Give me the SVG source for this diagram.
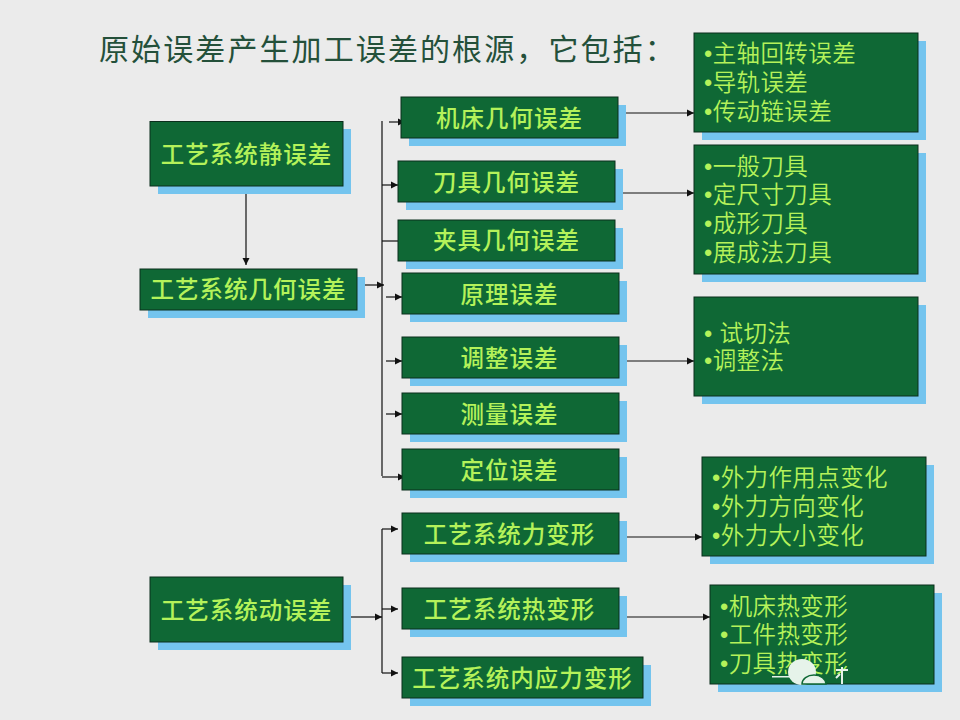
<svg xmlns="http://www.w3.org/2000/svg" width="960" height="720" viewBox="0 0 960 720">
<style>
text{font-family:"Liberation Sans","Noto Sans CJK SC",sans-serif;fill:#b4f25a}
.t{font-size:30px;fill:#24503a;letter-spacing:2.1px}
.b{font-size:23.5px;font-weight:500;text-anchor:middle;letter-spacing:1px}
.l{font-size:23.5px;font-weight:350;letter-spacing:.4px}
.s{fill:#74c4ee}
.r{fill:#0f6835;stroke:#0b2e1c;stroke-width:1}
.c{fill:none;stroke:#111;stroke-width:1.2}
.a{fill:none;stroke:#111;stroke-width:1.2;marker-end:url(#m)}
</style>
<defs><marker id="m" viewBox="0 0 8 8" refX="8" refY="4" markerWidth="6" markerHeight="6" orient="auto"><path d="M0 0L8 4L0 8z" fill="#111"/></marker></defs>
<rect width="960" height="720" fill="#ebebeb"/>
<text class="t" x="99" y="60">原始误差产生加工误差的根源，它包括：</text>
<g id="connectors">
<path class="c" d="M382 121V476M382 529V673"/>
<path class="a" d="M246 193V265"/>
<path class="a" d="M360 285H384"/>
<path class="a" d="M389 122H405"/>
<path class="a" d="M382 185H398"/>
<path class="a" d="M382 241H406"/>
<path class="a" d="M386 297H402"/>
<path class="a" d="M386 361H402"/>
<path class="a" d="M386 414H402"/>
<path class="a" d="M382 477H405"/>
<path class="a" d="M382 529H398"/>
<path class="a" d="M382 609H398"/>
<path class="a" d="M382 673H398"/>
<path class="a" d="M350 617H382"/>
<path class="a" d="M622 113H694"/>
<path class="a" d="M622 193H694"/>
<path class="a" d="M622 361H694"/>
<path class="a" d="M622 537H702"/>
<path class="a" d="M622 617H710"/>
</g>
<g id="n1"><rect class="s" x="158" y="129" width="193" height="65"/><rect class="r" x="150" y="121.500" width="193" height="64.500"/><text class="b" x="246.500" y="163">工艺系统静误差</text></g>
<g id="n2"><rect class="s" x="148" y="277" width="217" height="41"/><rect class="r" x="140" y="269" width="217" height="41"/><text class="b" x="248.500" y="298">工艺系统几何误差</text></g>
<g id="n3"><rect class="s" x="158" y="585" width="193" height="65"/><rect class="r" x="150" y="577" width="193" height="65"/><text class="b" x="246.500" y="619">工艺系统动误差</text></g>
<g id="n4"><rect class="s" x="409" y="105" width="217" height="41"/><rect class="r" x="401" y="97" width="217" height="41"/><text class="b" x="509.500" y="127">机床几何误差</text></g>
<g id="n5"><rect class="s" x="406" y="169" width="217" height="41"/><rect class="r" x="398" y="161" width="217" height="41"/><text class="b" x="506.500" y="191">刀具几何误差</text></g>
<g id="n6"><rect class="s" x="406" y="228" width="217" height="41"/><rect class="r" x="398" y="220" width="217" height="41"/><text class="b" x="506.500" y="249">夹具几何误差</text></g>
<g id="n7"><rect class="s" x="410" y="281" width="217" height="41"/><rect class="r" x="402" y="273" width="217" height="41"/><text class="b" x="509.500" y="303">原理误差</text></g>
<g id="n8"><rect class="s" x="410" y="345" width="217" height="41"/><rect class="r" x="402" y="337" width="217" height="41"/><text class="b" x="509.500" y="367">调整误差</text></g>
<g id="n9"><rect class="s" x="410" y="401" width="217" height="41"/><rect class="r" x="402" y="393" width="217" height="41"/><text class="b" x="509.500" y="423">测量误差</text></g>
<g id="n10"><rect class="s" x="410" y="457" width="217" height="41"/><rect class="r" x="402" y="449" width="217" height="41"/><text class="b" x="509.500" y="479">定位误差</text></g>
<g id="n11"><rect class="s" x="410" y="521" width="217" height="41"/><rect class="r" x="402" y="513" width="217" height="41"/><text class="b" x="509.500" y="543">工艺系统力变形</text></g>
<g id="n12"><rect class="s" x="410" y="596" width="217" height="41"/><rect class="r" x="402" y="588" width="217" height="41"/><text class="b" x="509.500" y="618">工艺系统热变形</text></g>
<g id="n13"><rect class="s" x="410" y="665" width="241" height="41"/><rect class="r" x="402" y="657" width="241" height="41"/><text class="b" x="522.500" y="687">工艺系统内应力变形</text></g>
<g id="n14"><rect class="s" x="702" y="41" width="224" height="99"/><rect class="r" x="694" y="33" width="224" height="99"/><text class="l" x="704" y="62">•主轴回转误差</text><text class="l" x="704" y="91">•导轨误差</text><text class="l" x="704" y="120">•传动链误差</text></g>
<g id="n15"><rect class="s" x="702" y="153" width="224" height="129"/><rect class="r" x="694" y="145" width="224" height="129"/><text class="l" x="704" y="175">•一般刀具</text><text class="l" x="704" y="203">•定尺寸刀具</text><text class="l" x="704" y="232">•成形刀具</text><text class="l" x="704" y="261">•展成法刀具</text></g>
<g id="n16"><rect class="s" x="702" y="305" width="224" height="99"/><rect class="r" x="694" y="297" width="224" height="99"/><text class="l" x="704" y="342" xml:space="preserve">• 试切法</text><text class="l" x="704" y="369">•调整法</text></g>
<g id="n17"><rect class="s" x="710" y="465" width="224" height="99"/><rect class="r" x="702" y="457" width="224" height="99"/><text class="l" x="712" y="486">•外力作用点变化</text><text class="l" x="712" y="515">•外力方向变化</text><text class="l" x="712" y="544">•外力大小变化</text></g>
<g id="n18"><rect class="s" x="718" y="593" width="224" height="99"/><rect class="r" x="710" y="585" width="224" height="99"/><text class="l" x="720" y="615">•机床热变形</text><text class="l" x="720" y="643">•工件热变形</text><text class="l" x="720" y="672">•刀具热变形</text></g>
<g id="watermark"><ellipse cx="802" cy="672" rx="14" ry="13" fill="#e6f3ea"/><path d="M802 684a12 9 0 0 1 24 0z" fill="#e6f3ea" stroke="#0f6835" stroke-width="1.500"/><rect x="772" y="676" width="22" height="1.500" fill="#e6f3ea"/><path d="M836 670H848M842 667V684M836 678L840 674" fill="none" stroke="#e6f3ea" stroke-width="2"/></g>
</svg>
